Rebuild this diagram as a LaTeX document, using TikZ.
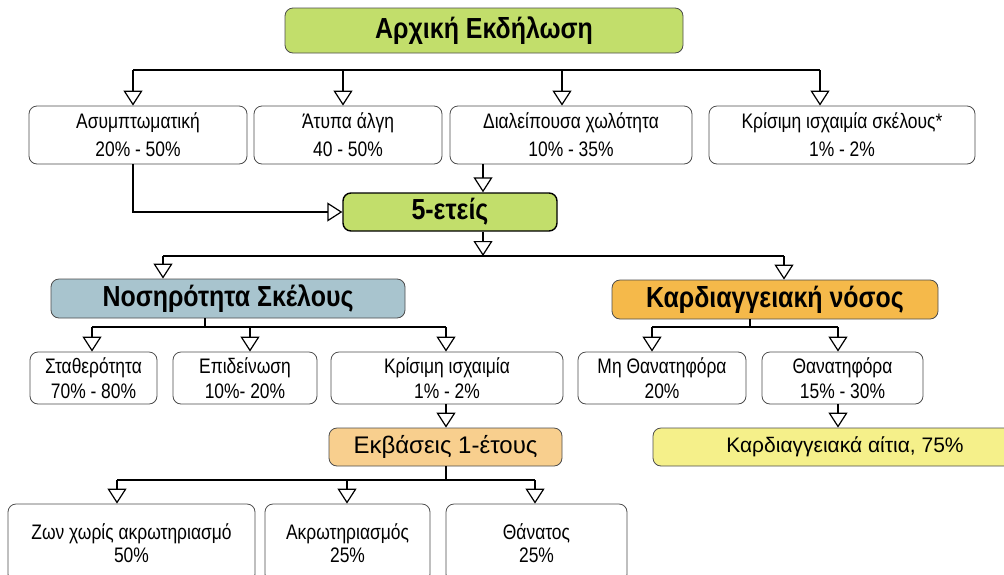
\documentclass[tikz,border=0pt]{standalone}
\usepackage{fontspec}
\setmainfont{Liberation Sans}[FakeStretch=0.83]
\newfontfamily\headfont{Liberation Sans}[FakeStretch=0.86]
\newfontfamily\widefont{Liberation Sans}
\usetikzlibrary{arrows.meta}
\definecolor{leaf}{HTML}{C2DE6B}
\definecolor{slate}{HTML}{A8C4CE}
\definecolor{amber}{HTML}{F5B94A}
\definecolor{peach}{HTML}{F8CF8E}
\definecolor{lemon}{HTML}{F5F08A}
\tikzset{
  box/.style={draw=black!70, line width=0.8pt, rounded corners=8pt, fill=white,
    align=center, inner sep=0pt, font=\fontsize{21}{25}\selectfont},
  rowa/.style={box, font=\fontsize{21}{28}\selectfont},
  rowc/.style={box, font=\fontsize{21}{23}\selectfont},
  headbox/.style={box, font=\headfont\bfseries\fontsize{29}{32}\selectfont},
  midbox/.style={box, font=\widefont\fontsize{21}{25}\selectfont},
  conn/.style={line width=1.6pt},
  stem/.style={line width=1.2pt},
  arr/.style={conn, -{Triangle[open, width=19pt, length=15pt, line width=1.2pt]}}
}
\begin{document}
\begin{tikzpicture}[x=1pt,y=-1pt]
\useasboundingbox (0,0) rectangle (1004,574);

% --- nodes ---
\node[headbox, fill=leaf, minimum width=398pt, minimum height=45pt] (top) at (484,30.5) {Αρχική Εκδήλωση};

\node[rowa, minimum width=218pt, minimum height=58pt] (a1) at (138,135) {Ασυμπτωματική\\20\% - 50\%};
\node[rowa, minimum width=188pt, minimum height=58pt] (a2) at (348,135) {Άτυπα άλγη\\40 - 50\%};
\node[rowa, minimum width=242pt, minimum height=58pt] (a3) at (571,135) {Διαλείπουσα χωλότητα\\10\% - 35\%};
\node[rowa, minimum width=266pt, minimum height=58pt] (a4) at (842,135) {Κρίσιμη ισχαιμία σκέλους*\\1\% - 2\%};

\node[headbox, fill=leaf, draw=black, line width=1.4pt, minimum width=214pt, minimum height=38pt] (five) at (450,212) {5-ετείς};

\node[headbox, fill=slate, minimum width=354pt, minimum height=39pt] (nos) at (228,298.5) {Νοσηρότητα Σκέλους};
\node[headbox, fill=amber, minimum width=326pt, minimum height=39pt] (kar) at (775,299.5) {Καρδιαγγειακή νόσος};

\node[box, minimum width=127pt, minimum height=52pt] (s1) at (93.5,378) {Σταθερότητα\\70\% - 80\%};
\node[box, minimum width=144pt, minimum height=52pt] (s2) at (245,378) {Επιδείνωση\\10\%- 20\%};
\node[box, minimum width=232pt, minimum height=52pt] (s3) at (447,378) {Κρίσιμη ισχαιμία\\1\% - 2\%};
\node[box, minimum width=168pt, minimum height=52pt] (k1) at (662,378) {Μη Θανατηφόρα\\20\%};
\node[box, minimum width=161pt, minimum height=52pt] (k2) at (842.5,378) {Θανατηφόρα\\15\% - 30\%};

\node[midbox, fill=peach, font=\widefont\fontsize{24}{28}\selectfont, minimum width=233pt, minimum height=38pt] (ekv) at (445.5,447) {Εκβάσεις 1-έτους};
\node[midbox, fill=lemon, minimum width=384pt, minimum height=38pt] (kai) at (845,447) {Καρδιαγγειακά αίτια, 75\%};

\node[rowc, minimum width=247pt, minimum height=78pt] (b1) at (131.5,543) {Ζων χωρίς ακρωτηριασμό\\50\%};
\node[rowc, minimum width=165pt, minimum height=78pt] (b2) at (347.5,543) {Ακρωτηριασμός\\25\%};
\node[rowc, minimum width=181pt, minimum height=78pt] (b3) at (536.5,543) {Θάνατος\\25\%};

% --- first fan-out ---
\coordinate (t1) at (133,70);
\coordinate (t2) at (343,70);
\coordinate (t3) at (562,70);
\coordinate (t4) at (820,70);
\draw[conn] (t1) -- (t4);
\foreach \t/\n in {t1/a1,t2/a2,t3/a3,t4/a4}
  \draw[arr] (\t) -- (\t |- \n.north);

% --- into the 5-year node ---
\coordinate (p1) at (133,212);
\draw[arr] (a1.south -| p1) -- (p1) -- (five.west);
\coordinate (q) at (483,256);
\draw[arr] (a3.south -| q) -- (five.north -| q);
\draw[arr] (five.south -| q) -- (q);

% --- second fan-out ---
\coordinate (u1) at (163,256);
\coordinate (u2) at (784,256);
\draw[conn] (u1) -- (u2);
\draw[arr] (u1) -- (u1 |- nos.north);
\draw[arr] (u2) -- (u2 |- kar.north);

% --- limb morbidity branch ---
\coordinate (m0) at (205,327);
\coordinate (m1) at (92,327);
\coordinate (m2) at (250,327);
\coordinate (m3) at (446,327);
\draw[stem] (nos.south -| m0) -- (m0);
\draw[conn] (m1) -- (m3);
\foreach \t/\n in {m1/s1,m2/s2,m3/s3}
  \draw[arr] (\t) -- (\t |- \n.north);
\draw[arr] (s3.south -| m3) -- (ekv.north -| m3);

% --- cardiovascular branch ---
\coordinate (c0) at (750,327);
\coordinate (c1) at (652,327);
\coordinate (c2) at (838,327);
\draw[stem] (kar.south -| c0) -- (c0);
\draw[conn] (c1) -- (c2);
\draw[arr] (c1) -- (c1 |- k1.north);
\draw[arr] (c2) -- (c2 |- k2.north);
\draw[arr] (k2.south -| c2) -- (kai.north -| c2);

% --- one-year outcomes ---
\coordinate (e0) at (446,480);
\coordinate (e1) at (117,480);
\coordinate (e2) at (347,480);
\coordinate (e3) at (535,480);
\draw[stem] (ekv.south -| e0) -- (e0);
\draw[conn] (e1) -- (e3);
\foreach \t/\n in {e1/b1,e2/b2,e3/b3}
  \draw[arr] (\t) -- (\t |- \n.north);
\end{tikzpicture}
\end{document}
